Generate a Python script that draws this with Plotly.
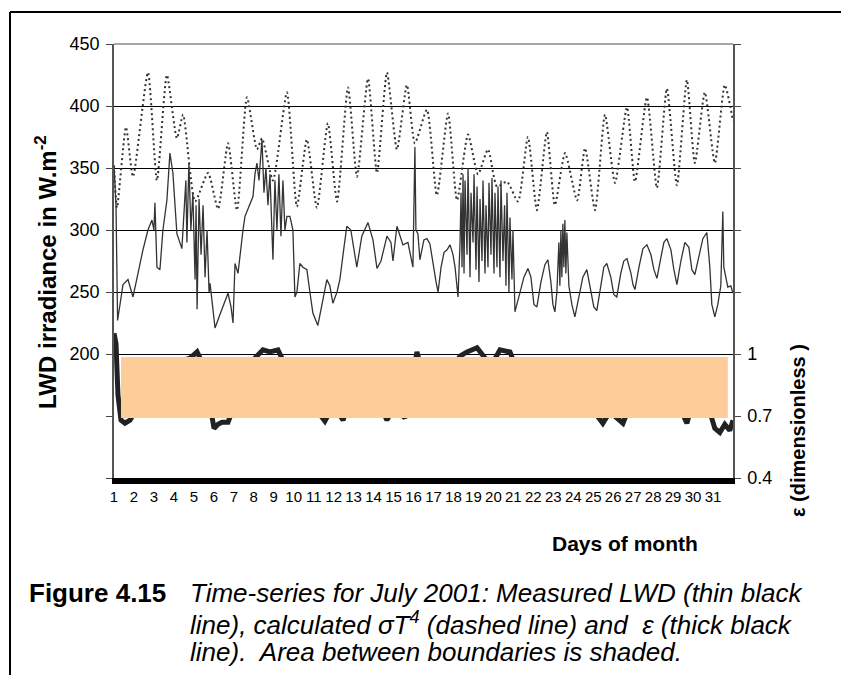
import plotly.graph_objects as go

# ---------------- data ----------------
# calculated sigma*T^4 (dotted line), W/m2
sig_day = [1.00, 1.15, 1.60, 1.95, 2.70, 3.15, 3.65, 4.15, 4.46, 5.06, 5.71, 6.21, 6.71, 7.16,
           7.66, 8.16, 8.41, 8.96, 9.66, 10.16, 10.66, 11.16, 11.71, 12.17, 12.72, 13.17,
           13.72, 14.17, 14.67, 15.17, 15.67, 16.07, 16.67, 17.17, 17.73, 18.18, 18.73,
           19.23, 19.73, 20.18, 20.68, 21.23, 21.73, 22.18, 22.68, 23.08, 23.59, 24.19,
           24.59, 25.09, 25.59, 26.09, 26.69, 27.09, 27.69, 28.19, 28.69, 29.19, 29.69,
           30.09, 30.59, 31.09, 31.59, 32.00]
sig_val = [352, 318, 383, 343, 427, 340, 425, 374, 393, 323, 346, 317, 370, 316,
           407, 365, 374, 340, 411, 319, 373, 318, 386, 323, 415, 343,
           422, 346, 427, 365, 417, 370, 397, 328, 394, 324, 377,
           345, 365, 335, 339, 323, 375, 316, 379, 320, 362, 324,
           366, 316, 393, 338, 399, 339, 407, 334, 414, 336, 421,
           354, 411, 354, 417, 388]

# measured LWD (thin line), W/m2
lwd_day = [1.00, 1.10, 1.18, 1.30, 1.45, 1.70, 1.85, 1.95, 2.15, 2.45, 2.70, 2.90, 3.00, 3.05,
           3.15, 3.30, 3.45, 3.65, 3.80, 3.95, 4.15, 4.30, 4.40, 4.60, 4.65, 4.75, 4.85,
           4.95, 5.06, 5.11, 5.16, 5.26, 5.36, 5.46, 5.56, 5.66, 5.76, 5.81, 6.06, 6.31,
           6.56, 6.71, 6.86, 6.96, 7.06, 7.21, 7.46, 7.56, 7.96, 8.06, 8.16, 8.26, 8.41,
           8.51, 8.61, 8.71, 8.81, 8.91, 8.96, 9.06, 9.16, 9.26, 9.36, 9.46, 9.56, 9.66,
           9.81, 9.96, 10.06, 10.16, 10.31, 10.46, 10.66, 10.81, 10.96, 11.21, 11.41,
           11.66, 11.81, 11.96, 12.17, 12.31, 12.51, 12.66, 12.86, 13.16, 13.41, 13.72,
           13.97, 14.17, 14.37, 14.67, 14.87, 14.97, 15.17, 15.47, 15.72, 15.97, 16.07,
           16.12, 16.22, 16.32, 16.52, 16.67, 16.82, 16.97, 17.13, 17.23, 17.38, 17.53,
           17.68, 17.83, 17.98, 18.08, 18.23, 18.33, 18.38, 18.43, 18.48, 18.53, 18.58,
           18.68, 18.73, 18.83, 18.88, 18.98, 19.03, 19.13, 19.18, 19.28, 19.33, 19.43,
           19.48, 19.58, 19.63, 19.73, 19.78, 19.88, 19.93, 20.03, 20.08, 20.18, 20.23,
           20.33, 20.38, 20.48, 20.56, 20.63, 20.68, 20.78, 20.83, 20.93, 20.98, 21.08,
           21.18, 21.33, 21.53, 21.73, 21.88, 22.03, 22.18, 22.38, 22.58, 22.73, 22.88,
           22.98, 23.08, 23.18, 23.28, 23.33, 23.38, 23.43, 23.48, 23.53, 23.58, 23.63,
           23.68, 23.78, 23.93, 24.08, 24.28, 24.48, 24.68, 24.88, 25.03, 25.18, 25.38,
           25.53, 25.68, 25.88, 26.03, 26.18, 26.38, 26.53, 26.69, 26.89, 26.99, 27.09,
           27.29, 27.49, 27.69, 27.89, 28.04, 28.19, 28.39, 28.54, 28.69, 28.89, 29.04,
           29.19, 29.39, 29.59, 29.79, 29.94, 30.09, 30.29, 30.49, 30.69, 30.84, 30.94,
           31.09, 31.24, 31.39, 31.49, 31.54, 31.64, 31.74, 31.89, 32.00]
lwd_val = [352, 320, 227, 240, 256, 260, 252, 246, 261, 284, 300, 308, 300, 322,
           270, 268, 300, 324, 362, 346, 297, 289, 285, 340, 290, 354, 300,
           330, 260, 320, 236, 325, 280, 320, 262, 300, 250, 257, 221, 232,
           243, 249, 238, 225, 273, 265, 300, 311, 327, 345, 354, 340, 373,
           330, 350, 320, 345, 290, 276, 340, 300, 345, 295, 340, 300, 311,
           311, 300, 246, 250, 273, 270, 268, 250, 233, 223, 240,
           260, 255, 241, 250, 260, 285, 303, 300, 270, 295, 306,
           292, 269, 275, 295, 290, 275, 303, 288, 290, 270, 367,
           300, 297, 276, 292, 293, 289, 273, 258, 250, 270, 282,
           284, 288, 280, 270, 246, 290, 330, 270, 345, 265, 340,
           280, 350, 262, 330, 290, 345, 268, 335, 258, 325, 275,
           340, 265, 320, 270, 338, 280, 342, 265, 330, 270, 335,
           262, 340, 275, 320, 255, 330, 250, 310, 260, 300, 234,
           240, 250, 262, 269, 262, 240, 238, 258, 272, 276, 258,
           240, 234, 250, 290, 255, 300, 262, 305, 270, 308, 265,
           298, 255, 240, 230, 245, 262, 268, 250, 238, 235, 255,
           270, 273, 262, 248, 246, 265, 275, 277, 265, 256, 252,
           270, 285, 288, 280, 268, 261, 278, 290, 293, 284, 268,
           256, 275, 290, 286, 268, 264, 280, 293, 298, 270, 240,
           230, 240, 255, 315, 270, 262, 254, 255, 249]

# emissivity epsilon (thick line), dimensionless
eps_day = [1.00, 1.10, 1.20, 1.35, 1.55, 1.80, 2.05, 2.80, 3.80, 4.81, 5.16, 5.41, 5.81, 6.01,
           6.21, 6.41, 6.71, 6.91, 7.56, 8.06, 8.46, 8.81, 9.21, 9.56, 10.31, 11.21, 11.56,
           11.81, 12.22, 12.47, 12.72, 13.57, 14.32, 14.67, 15.07, 15.57, 15.82, 16.17,
           16.42, 17.33, 18.08, 18.33, 18.68, 19.18, 19.58, 19.93, 20.33, 20.83, 21.08,
           21.83, 23.33, 24.83, 25.48, 25.83, 26.49, 26.84, 28.34, 29.34, 29.69, 29.94,
           30.84, 31.09, 31.34, 31.59, 31.84, 32.00]
eps_val = [1.10, 1.05, 0.80, 0.68, 0.665, 0.68, 0.72, 0.85, 0.95, 0.98, 1.01, 0.96, 0.75, 0.64,
           0.66, 0.67, 0.67, 0.72, 0.90, 0.98, 1.02, 1.01, 1.02, 0.95, 0.80, 0.72, 0.675,
           0.72, 0.72, 0.68, 0.75, 0.85, 0.75, 0.68, 0.75, 0.69, 0.80, 1.01,
           0.92, 0.88, 0.95, 0.99, 1.01, 1.03, 0.98, 0.95, 1.02, 1.01, 0.95,
           0.80, 0.78, 0.75, 0.665, 0.72, 0.665, 0.75, 0.80, 0.74, 0.665, 0.75,
           0.72, 0.64, 0.62, 0.66, 0.63, 0.68]

# shaded band between the epsilon boundaries
shade_day = [1.35, 31.74]
shade_lo = [0.69, 0.69]
shade_hi = [0.985, 0.985]

# axis ticks
day_ticks = list(range(1, 32))
day_labels = [str(d) for d in day_ticks]
left_ticks = [200, 250, 300, 350, 400, 450]
left_minor = [100, 150]
right_ticks = [0.4, 0.7, 1.0, 1.3, 1.6, 1.9, 2.2, 2.5]
right_labels = ["0.4", "0.7", "1", "", "", "", "", ""]

# ---------------- layout geometry ----------------
W, H = 841, 675
ML, MR, MT, MB = 114, 108, 44, 197
PW, PH = W - ML - MR, H - MT - MB


def px(x):
    return (x - ML) / PW


def py(y):
    return (H - MB - y) / PH


DARK = "#333333"
FONT = "Liberation Sans, Arial, sans-serif"

fig = go.Figure()
fig.add_trace(go.Scatter(x=sig_day, y=sig_val, mode="lines", name="sigma T4",
                         line=dict(color=DARK, width=2, dash="2px,3px", shape="spline", smoothing=0.6)))
fig.add_trace(go.Scatter(x=lwd_day, y=lwd_val, mode="lines", name="LWD",
                         line=dict(color=DARK, width=1.3)))
fig.add_trace(go.Scatter(x=eps_day, y=eps_val, mode="lines", name="epsilon", yaxis="y2",
                         line=dict(color="#222222", width=5)))
fig.add_trace(go.Scatter(x=shade_day, y=shade_lo, mode="lines", yaxis="y2",
                         line=dict(width=0, color="#FECC99"), showlegend=False))
fig.add_trace(go.Scatter(x=shade_day, y=shade_hi, mode="lines", yaxis="y2", fill="tonexty",
                         fillcolor="#FECC99", line=dict(width=0, color="#FECC99"), showlegend=False))

fig.update_layout(
    width=W, height=H,
    margin=dict(l=ML, r=MR, t=MT, b=MB, pad=0),
    paper_bgcolor="white", plot_bgcolor="white",
    showlegend=False,
    font=dict(family=FONT, color="black"),
    xaxis=dict(range=[1, 32], tickmode="array", tickvals=day_ticks, ticktext=day_labels,
               tickangle=0, showgrid=False, zeroline=False, showline=True,
               linecolor="black", linewidth=6, ticks="", tickfont=dict(size=15, color="black")),
    yaxis=dict(range=[100, 450], tickmode="array", tickvals=left_ticks, showgrid=True,
               gridcolor="black", gridwidth=1, zeroline=False, showline=True,
               linecolor="#555555", linewidth=1.5, ticks="outside", ticklen=6, tickcolor="#444444",
               ticklabelstandoff=3, tickfont=dict(size=18, color="black"),
               minor=dict(tickmode="array", tickvals=left_minor, ticks="outside", ticklen=6,
                          tickcolor="#444444", showgrid=False)),
    yaxis2=dict(range=[0.4, 2.5], overlaying="y", side="right", tickmode="array",
                tickvals=right_ticks, ticktext=right_labels, showgrid=False, zeroline=False,
                showline=True, linecolor="#555555", linewidth=1.5, ticks="outside", ticklen=6,
                tickcolor="#444444", ticklabelstandoff=3, tickfont=dict(size=18, color="black")),
)

shapes = [
    # gray top boundary of plot area
    dict(type="line", xref="paper", yref="paper", x0=0, x1=1, y0=1, y1=1,
         line=dict(color="#888888", width=1.5), layer="above"),
    # page frame
    dict(type="line", xref="paper", yref="paper", x0=px(10), x1=px(841), y0=py(12), y1=py(12),
         line=dict(color="black", width=2)),
    dict(type="line", xref="paper", yref="paper", x0=px(10), x1=px(10), y0=py(12), y1=py(675),
         line=dict(color="black", width=2)),
]
fig.update_layout(shapes=shapes)

CAP = 26
ann = [
    dict(text="<b>LWD irradiance in W.m<sup>-2</sup></b>", x=px(46), y=py(272), textangle=-90,
         font=dict(size=24)),
    dict(text="<b>\u03b5 (dimensionless )</b>", x=px(798), y=py(431), textangle=-90,
         font=dict(size=20)),
    dict(text="<b>Days of month</b>", x=px(625), y=py(543), font=dict(size=21)),
    dict(text="<b>Figure 4.15</b>", x=px(27), y=py(593), xanchor="left", font=dict(size=CAP)),
    dict(text="<i>Time-series for July 2001: Measured LWD (thin black</i>", x=px(188), y=py(593),
         xanchor="left", font=dict(size=CAP)),
    dict(text="<i>line), calculated \u03c3T<sup>4</sup> (dashed line) and  \u03b5 (thick black</i>",
         x=px(188), y=py(623), xanchor="left", font=dict(size=CAP)),
    dict(text="<i>line).  Area between boundaries is shaded.</i>", x=px(188), y=py(652),
         xanchor="left", font=dict(size=CAP)),
]
for a in ann:
    a.setdefault("xanchor", "center")
    a.update(xref="paper", yref="paper", showarrow=False, yanchor="middle")
fig.update_layout(annotations=ann)

fig.write_html("out.html", config={"displayModeBar": False},
               post_script="document.body.style.margin='0';")
